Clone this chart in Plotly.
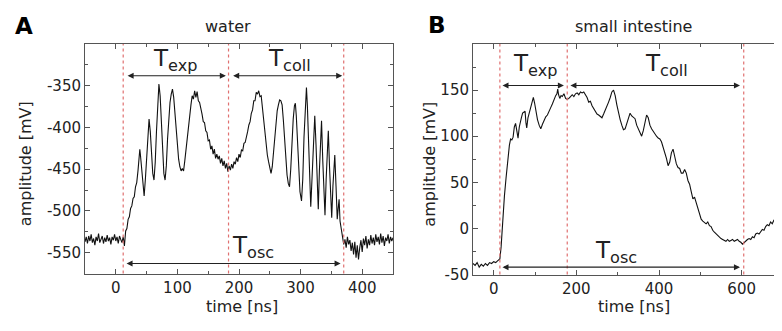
import plotly.graph_objects as go

# ---------------- data: panel A (water) ----------------
a_time = [-50, -48, -46, -44, -42, -40, -38, -36, -34, -32, -30, -28, -26, -24, -22, -20, -18, -16, -14, -12,
          -10, -8, -6, -4, -2, 0, 2, 4, 6, 8, 10, 12, 14,
          16, 18, 20, 22, 24, 26, 28, 30, 32, 34, 36, 38, 39, 40, 42, 44, 46, 48, 50, 52, 54, 56, 58, 60,
          62, 64, 66, 68, 70, 72, 74, 76, 78, 80, 82, 84, 86, 88, 90, 92, 94, 96, 98, 100, 102, 104, 106,
          108, 110, 112, 114, 116, 118, 120, 122, 124, 126, 128, 130, 132, 134, 136, 138, 140, 142, 144,
          146, 148, 150, 152, 154, 156, 158, 160, 162, 164, 166, 168, 170, 172, 174, 176, 178, 180, 182,
          184, 186, 188, 190, 192, 194, 196, 198, 200, 202, 204, 206, 208, 210, 212, 214, 216, 218, 220,
          222, 224, 226, 228, 230, 232, 234, 236, 238, 240, 242, 244, 246, 248, 250, 252, 254, 256, 258,
          260, 262, 264, 266, 268, 270, 272, 274, 276, 278, 280, 282, 284, 286, 288, 290, 291.5, 293, 295,
          297, 299, 301.5, 303.5, 305.5, 307.5, 309.5, 311, 313, 315, 316.5, 318, 320, 321.5, 323, 325,
          327, 328.7, 330.5, 332.5, 334, 336, 338, 339.6, 341.5, 343.5, 345, 347, 349, 350.5, 352.5, 354,
          355.5, 357.5, 359.5, 361, 362.5, 364, 366, 368, 370, 372, 374, 376, 378, 380, 382, 384, 386, 388,
          390, 392, 394, 396, 398, 400, 402, 404, 406, 408, 410, 412, 414, 416, 418, 420, 422, 424, 426,
          428, 430, 432, 434, 436, 438, 440, 442, 444, 446, 448, 450]
a_amp = [-537, -531, -539, -530, -536, -528, -538, -533, -541, -531, -536, -527, -538, -533, -530, -539, -532,
         -537, -529, -536, -532, -540, -531, -535, -528, -536, -531, -539, -530, -534, -538, -531, -542,
         -524, -521, -510, -507, -497, -494, -485, -483, -471, -466, -452, -432, -426, -433, -452, -470, -482,
         -462, -432, -405, -390, -405, -432, -455, -463, -442, -405, -372, -348, -362, -396, -430, -455, -463,
         -446, -414, -390, -370, -360, -354, -364, -384, -406, -424, -438, -447, -452, -449, -452, -440, -427,
         -408, -396, -380, -373, -362, -366, -356, -364, -357, -368, -370, -380, -384, -393, -394, -404, -406,
         -416, -415, -426, -422, -432, -426, -437, -432, -438, -434, -443, -437, -446, -440, -449, -443, -453,
         -446, -451, -444, -449, -441, -444, -436, -441, -432, -436, -427, -428, -419, -418, -409, -405, -397,
         -393, -383, -379, -368, -368, -358, -360, -356, -363, -362, -378, -390, -406, -420, -433, -441, -451,
         -455, -447, -430, -409, -392, -380, -373, -367, -368, -373, -391, -416, -438, -457, -467, -471, -450,
         -416, -390, -374, -371, -386, -415, -450, -477, -488, -462, -412, -372, -352, -374, -421, -468, -495,
         -470, -427, -396, -386, -420, -468, -498, -452, -406, -392, -440, -483, -505, -462, -418, -404, -448,
         -488, -508, -470, -444, -433, -470, -510, -497, -486, -512, -521, -530, -540, -534, -544, -531, -540,
         -535, -548, -538, -552, -537, -556, -541, -558, -544, -535, -549, -533, -541, -530, -545, -534, -541,
         -529, -539, -532, -541, -528, -537, -531, -540, -527, -538, -530, -542, -532, -536, -528, -539, -531,
         -536, -532]

# ---------------- data: panel B (small intestine) ----------------
b_time = [-50, -45, -40, -35, -30, -25, -20, -15, -10, -5, 0, 5, 10, 15,
          18, 22, 26, 30, 34, 38, 41, 44, 47, 50, 53, 56, 59, 62, 64, 67, 70, 73, 76, 78, 80, 83, 86, 90,
          93, 96, 99, 102, 106, 110, 114, 118, 122, 126, 130, 134, 138, 142, 146, 150, 153, 155, 157, 160,
          163, 166, 170, 174, 178, 182, 186, 190, 194, 198, 202, 206, 210, 214, 218, 222, 226, 230, 234,
          238, 242, 246, 250, 254, 258, 262, 266, 270, 274, 278, 282, 286, 290, 294, 298, 302, 306, 310,
          314, 318, 322, 326, 330, 334, 338, 342, 346, 350, 354, 358, 362, 366, 370, 374, 378, 382, 386,
          390, 394, 398, 402, 406, 410, 414, 418, 422, 426, 430, 434, 438, 442, 446, 450, 454, 458, 462,
          466, 470, 474, 478, 482, 486, 490, 494, 498, 502, 506, 510, 514, 518, 522, 526, 530, 534, 538,
          542, 546, 550, 554, 558, 562, 566, 570, 574, 578, 582, 586, 590, 594, 598, 602, 606, 610, 614,
          618, 622, 626, 630, 634, 638, 642, 646, 650, 654, 658, 662, 666, 670, 674, 678, 682, 686, 690,
          694, 698, 700]
b_amp = [-38, -40, -37, -42, -39, -41, -38, -40, -37, -38, -36, -37, -35, -33,
         -20, 10, 35, 55, 75, 90, 97, 96, 99, 110, 114, 104, 98, 110, 113, 120, 125, 126, 127, 115, 109, 120,
         125, 132, 138, 142, 136, 126, 118, 112, 108, 113, 117, 121, 123, 128, 131, 135, 140, 144, 146, 151,
         145, 141, 144, 143, 146, 141, 140, 141, 143, 145, 143, 146, 147, 145, 148, 147, 148, 145, 142, 137,
         138, 133, 130, 126, 124, 123, 121, 120, 124, 128, 132, 137, 142, 148, 150, 144, 134, 124, 118, 112,
         107, 108, 114, 120, 125, 122, 120, 119, 112, 108, 103, 100, 106, 116, 123, 120, 112, 108, 105, 102,
         100, 98, 97, 94, 88, 83, 76, 68, 72, 82, 86, 78, 70, 66, 65, 60, 60, 64, 60, 52, 48, 40, 32, 34, 28,
         22, 15, 10, 8, 6, 5, 7, 3, 2, -2, -4, -6, -8, -9, -11, -12, -13, -14, -12, -14, -13, -12, -14, -13,
         -12, -14, -15, -17, -15, -14, -12, -11, -12, -9, -10, -6, -5, -6, -3, -1, -2, 2, 4, 3, 7, 5, 9, 10,
         13, 12, 15, 11, 12]

# phase boundaries (dashed red lines), ns
a_marks = [12, 183, 370]
b_marks = [15, 178, 605]

# interval arrows: (start, end, level) in data units
a_arrows = [(16.7, 178.7, -338), (188, 367.6, -338), (15, 365, -563)]
b_arrows = [(17.7, 170, 155), (182, 596, 155), (17.7, 596, -42)]
a_labels = [("T<sub>exp</sub>", 96, -319), ("T<sub>coll</sub>", 282.6, -319), ("T<sub>osc</sub>", 223.5, -543)]
b_labels = [("T<sub>exp</sub>", 101, 177), ("T<sub>coll</sub>", 419, 177), ("T<sub>osc</sub>", 295, -26)]

a_xticks = [0, 100, 200, 300, 400]
a_yticks = [-550, -500, -450, -400, -350]
a_ytext = ["-550", "-500", "-450", "-400", "-350"]
b_xticks = [0, 200, 400, 600]
b_yticks = [-50, 0, 50, 100, 150]
b_ytext = ["-50", "0", "50", "100", "150"]

FONT = "DejaVu Sans"
TXT = "#222222"
W, H = 782, 331

fig = go.Figure()
fig.add_trace(go.Scatter(x=a_time, y=a_amp, mode="lines", line=dict(color="#111111", width=1.1),
                         xaxis="x", yaxis="y", showlegend=False, hoverinfo="skip"))
fig.add_trace(go.Scatter(x=b_time, y=b_amp, mode="lines", line=dict(color="#111111", width=1.1),
                         xaxis="x2", yaxis="y2", showlegend=False, hoverinfo="skip"))

shapes = []
for xr, yr, marks in (("x", "y domain", a_marks), ("x2", "y2 domain", b_marks)):
    for m in marks:
        shapes.append(dict(type="line", xref=xr, yref=yr, x0=m, x1=m, y0=0, y1=1,
                           line=dict(color="#e07070", width=1.2, dash="3px,3px"), layer="above"))

ann = []
for xr, yr, arrows in (("x", "y", a_arrows), ("x2", "y2", b_arrows)):
    for x0, x1, lv in arrows:
        ann.append(dict(x=x1, y=lv, ax=x0, ay=lv, xref=xr, yref=yr, axref=xr, ayref=yr, text="",
                        showarrow=True, arrowside="end+start", arrowhead=2, arrowsize=1.1,
                        arrowwidth=1.1, arrowcolor="#222222", standoff=0, startstandoff=0))
for xr, yr, labels in (("x", "y", a_labels), ("x2", "y2", b_labels)):
    for t, lx, ly in labels:
        ann.append(dict(x=lx, y=ly, xref=xr, yref=yr, text=t, showarrow=False,
                        xanchor="center", yanchor="middle", font=dict(family=FONT, size=23, color=TXT)))

def pap(px, py):
    return px / W, 1 - py / H

for text, px, py, size, bold, ang in [
    ("A", 16, 18, 23, True, 0), ("B", 429, 17, 23, True, 0),
    ("water", 220, 19, 16, False, 0), ("small intestine", 625, 19, 16, False, 0),
    ("time [ns]", 234, 307, 16, False, 0), ("time [ns]", 626, 307, 16, False, 0),
    ("amplitude [mV]", 17.5, 160, 16, False, -90), ("amplitude [mV]", 422, 160, 16, False, -90)]:
    x, y = pap(px, py)
    ann.append(dict(x=x, y=y, xref="paper", yref="paper", text=f"<b>{text}</b>" if bold else text,
                    showarrow=False, xanchor="center", yanchor="middle", textangle=ang,
                    font=dict(family=FONT, size=size, color="#000000" if bold else TXT)))

axis_common = dict(showline=True, linecolor="#555555", linewidth=1, mirror="ticks", ticks="inside",
                   ticklen=5, tickcolor="#555555", showgrid=False, zeroline=False,
                   tickfont=dict(family=FONT, size=15, color=TXT), tickmode="array")

fig.update_layout(
    width=W, height=H, margin=dict(l=0, r=0, t=0, b=0),
    paper_bgcolor="white", plot_bgcolor="white",
    xaxis=dict(domain=[77 / W, 385 / W], range=[-50, 450], tickvals=a_xticks, anchor="y",
               minor=dict(dtick=50, tick0=0, ticklen=3, ticks="inside", tickcolor="#555555"), **axis_common),
    yaxis=dict(domain=[1 - 273 / H, 1 - 37 / H], range=[-575, -300], tickvals=a_yticks, ticktext=a_ytext,
               anchor="x",
               minor=dict(dtick=25, tick0=0, ticklen=3, ticks="inside", tickcolor="#555555"), **axis_common),
    xaxis2=dict(domain=[465 / W, 775 / W], range=[-50, 700], tickvals=b_xticks, anchor="y2",
                minor=dict(dtick=100, tick0=0, ticklen=3, ticks="inside", tickcolor="#555555"), **axis_common),
    yaxis2=dict(domain=[1 - 274 / H, 1 - 37 / H], range=[-50, 200], tickvals=b_yticks, ticktext=b_ytext,
                anchor="x2",
                minor=dict(dtick=25, tick0=0, ticklen=3, ticks="inside", tickcolor="#555555"), **axis_common),
    shapes=shapes, annotations=ann,
)

fig.write_html("out.html")
